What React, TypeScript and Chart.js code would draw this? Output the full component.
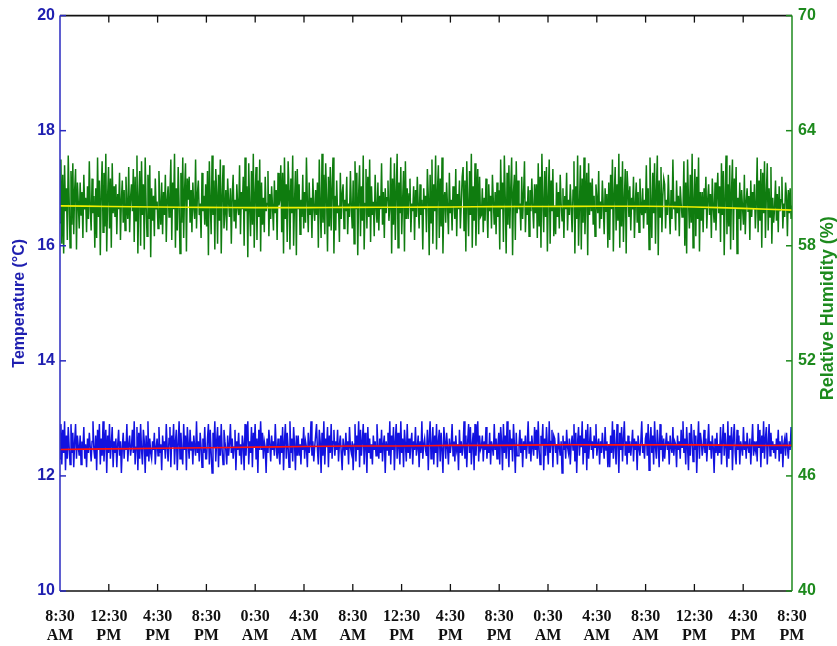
import React, { useEffect, useRef } from "react";
import { Chart, registerables } from "chart.js";

Chart.register(...registerables);

const timeLabels: string[][] = [
  ["8:30", "AM"], ["12:30", "PM"], ["4:30", "PM"], ["8:30", "PM"],
  ["0:30", "AM"], ["4:30", "AM"], ["8:30", "AM"], ["12:30", "PM"],
  ["4:30", "PM"], ["8:30", "PM"], ["0:30", "AM"], ["4:30", "AM"],
  ["8:30", "AM"], ["12:30", "PM"], ["4:30", "PM"], ["8:30", "PM"],
];

const temperatureTicks = [10, 12, 14, 16, 18, 20];
const humidityTicks = [40, 46, 52, 58, 64, 70];

const temperature = [
  12.3,12.9,12.2,12.8,12.4,12.95,12.1,12.7,12.3,12.85,12.5,12.2,12.9,12.4,12.75,12.15,12.6,12.9,12.3,12.7,
  12.5,12.35,12.7,12.2,12.6,12.45,12.85,12.3,12.55,12.15,12.65,12.4,12.75,12.5,12.25,12.6,12.95,12.45,12.3,12.7,
  12.1,12.8,12.45,12.9,12.2,12.65,12.35,12.95,12.25,12.6,12.8,12.05,12.7,12.4,12.9,12.3,12.55,12.85,12.15,12.6,
  12.4,12.65,12.15,12.55,12.8,12.35,12.6,12.05,12.5,12.75,12.3,12.6,12.45,12.9,12.25,12.55,12.7,12.35,12.5,12.8,
  12.4,12.95,12.2,12.5,12.85,12.1,12.75,12.3,12.9,12.45,12.2,12.8,12.6,12.05,12.7,12.35,12.95,12.25,12.65,12.4,
  12.3,12.6,12.45,12.75,12.2,12.5,12.65,12.35,12.85,12.4,12.55,12.1,12.7,12.45,12.6,12.3,12.9,12.5,12.25,12.65,
  12.85,12.15,12.7,12.5,12.9,12.2,12.6,12.8,12.1,12.55,12.95,12.3,12.75,12.4,12.2,12.9,12.45,12.7,12.1,12.85,
  12.55,12.3,12.8,12.45,12.6,12.2,12.7,12.5,12.35,12.95,12.4,12.6,12.25,12.75,12.5,12.15,12.65,12.4,12.85,12.3,
  12.3,12.65,12.9,12.2,12.8,12.4,12.05,12.75,12.5,12.95,12.25,12.6,12.85,12.15,12.7,12.35,12.9,12.45,12.2,12.8,
  12.6,12.45,12.2,12.7,12.35,12.55,12.9,12.4,12.65,12.3,12.5,12.8,12.1,12.6,12.45,12.75,12.35,12.55,12.2,12.7,
  12.55,12.1,12.9,12.35,12.7,12.95,12.2,12.6,12.4,12.85,12.15,12.75,12.5,12.9,12.3,12.65,12.05,12.8,12.45,12.95,
  12.45,12.75,12.3,12.6,12.5,12.05,12.65,12.4,12.8,12.55,12.25,12.7,12.45,12.6,12.35,12.9,12.5,12.3,12.65,12.4,
  12.2,12.7,12.4,12.85,12.1,12.6,12.9,12.3,12.75,12.5,12.15,12.95,12.4,12.65,12.25,12.85,12.55,12.1,12.7,12.35,
  12.7,12.35,12.55,12.2,12.65,12.45,12.85,12.3,12.6,12.5,12.15,12.75,12.4,12.55,12.95,12.35,12.6,12.25,12.5,12.7,
  12.9,12.45,12.2,12.8,12.6,12.05,12.75,12.35,12.95,12.2,12.65,12.5,12.85,12.15,12.7,12.4,12.9,12.3,12.6,12.8,
  12.35,12.6,12.45,12.8,12.25,12.55,12.7,12.4,12.1,12.65,12.5,12.35,12.75,12.45,12.6,12.2,12.85,12.5,12.4,12.6,
  12.1,12.55,12.9,12.25,12.7,12.45,12.95,12.15,12.8,12.35,12.6,12.9,12.2,12.75,12.5,12.05,12.85,12.4,12.65,12.3,
  12.55,12.2,12.7,12.45,12.6,12.35,12.9,12.5,12.3,12.65,12.4,12.8,12.25,12.55,12.7,12.05,12.6,12.45,12.75,12.35,
  12.95,12.2,12.7,12.45,12.85,12.1,12.6,12.9,12.3,12.75,12.5,12.2,12.95,12.4,12.65,12.15,12.8,12.55,12.25,12.9,
  12.4,12.65,12.3,12.55,12.75,12.2,12.6,12.45,12.85,12.35,12.5,12.7,12.15,12.6,12.4,12.95,12.3,12.55,12.65,12.45,
  12.35,12.8,12.1,12.65,12.95,12.3,12.5,12.85,12.2,12.7,12.4,12.9,12.15,12.6,12.8,12.25,12.75,12.45,12.05,12.85,
  12.6,12.3,12.75,12.5,12.2,12.65,12.4,12.55,12.9,12.35,12.6,12.25,12.7,12.45,12.55,12.1,12.8,12.4,12.6,12.35,
  12.5,12.95,12.3,12.7,12.15,12.6,12.9,12.4,12.85,12.2,12.55,12.75,12.1,12.9,12.35,12.65,12.95,12.25,12.7,12.45,
  12.5,12.7,12.25,12.6,12.45,12.85,12.3,12.55,12.4,12.75,12.2,12.6,12.5,12.35,12.9,12.45,12.65,12.3,12.55,12.75,
  12.2,12.85,12.6,12.1,12.9,12.4,12.7,12.3,12.95,12.5,12.15,12.8,12.45,12.65,12.25,12.9,12.55,12.05,12.75,12.35,
  12.35,12.55,12.8,12.4,12.65,12.15,12.6,12.45,12.7,12.3,12.55,12.95,12.4,12.6,12.25,12.7,12.5,12.35,12.85,12.45,
  12.8,12.3,12.95,12.45,12.2,12.7,12.55,12.9,12.1,12.65,12.35,12.85,12.5,12.2,12.95,12.4,12.6,12.8,12.15,12.7,
  12.65,12.4,12.55,12.2,12.75,12.5,12.35,12.6,12.05,12.7,12.45,12.6,12.3,12.8,12.5,12.4,12.65,12.2,12.55,12.7,
  12.45,12.9,12.25,12.75,12.05,12.6,12.85,12.35,12.7,12.5,12.95,12.2,12.65,12.4,12.8,12.1,12.9,12.3,12.55,12.85,
  12.45,12.6,12.3,12.7,12.5,12.9,12.35,12.55,12.65,12.2,12.6,12.4,12.75,12.5,12.3,12.85,12.45,12.6,12.15,12.55,
  12.15,12.7,12.4,12.95,12.3,12.8,12.5,12.2,12.9,12.6,12.05,12.75,12.45,12.85,12.25,12.65,12.95,12.35,12.6,12.2,
  12.7,12.4,12.6,12.35,12.55,12.8,12.25,12.65,12.45,12.6,12.1,12.7,12.5,12.35,12.6,12.95,12.4,12.55,12.3,12.65,
  12.75,12.35,12.9,12.1,12.6,12.85,12.4,12.7,12.2,12.95,12.5,12.3,12.8,12.55,12.15,12.9,12.45,12.7,12.25,12.65,
  12.3,12.55,12.75,12.45,12.6,12.2,12.7,12.5,12.4,12.85,12.35,12.6,12.55,12.15,12.7,12.45,12.6,12.3,12.8,12.5,
  12.95,12.4,12.65,12.2,12.85,12.5,12.1,12.75,12.35,12.9,12.6,12.25,12.8,12.45,12.7,12.05,12.55,12.95,12.3,12.75,
  12.6,12.35,12.5,12.8,12.4,12.65,12.25,12.55,12.9,12.45,12.6,12.3,12.7,12.5,12.05,12.65,12.4,12.75,12.35,12.55,
  12.4,12.85,12.2,12.6,12.9,12.35,12.75,12.5,12.15,12.95,12.3,12.7,12.45,12.85,12.1,12.65,12.9,12.4,12.2,12.8,
  12.45,12.7,12.2,12.6,12.5,12.35,12.85,12.45,12.6,12.3,12.75,12.5,12.4,12.65,12.2,12.55,12.9,12.35,12.6,12.45,
  12.6,12.25,12.9,12.5,12.8,12.15,12.7,12.4,12.95,12.3,12.65,12.85,12.2,12.55,12.9,12.35,12.75,12.45,12.6,12.4,
  12.55,12.3,12.65,12.45,12.8,12.25,12.6,12.4,12.7,12.15,12.55,12.65,12.35,12.75,12.5,12.3,12.6,12.45,12.85,12.5,
];

const humidity = [
  59.2,62.5,58.1,61.7,57.6,62.2,59.8,61.0,58.3,62.7,60.4,57.9,61.9,59.1,62.3,58.6,60.9,62.0,57.8,61.3,
  60.2,58.9,61.3,59.6,60.8,58.4,61.7,59.9,60.5,58.7,61.1,59.4,62.4,60.0,58.8,61.5,59.7,60.6,57.9,61.0,
  58.4,62.6,59.5,61.4,57.5,60.8,62.4,58.7,61.8,59.0,62.8,57.7,60.6,62.1,58.9,61.5,57.9,62.3,59.7,61.1,
  59.5,61.2,58.6,60.7,59.9,61.8,58.3,60.4,61.4,59.2,60.9,58.8,61.6,60.1,59.4,62.1,58.7,60.5,61.2,59.8,
  62.0,58.2,61.6,59.3,62.7,57.6,60.5,61.9,58.0,62.4,59.6,61.2,57.8,62.6,60.1,58.5,61.7,59.4,62.2,57.4,
  61.0,59.3,60.6,58.5,61.5,59.9,60.3,58.9,61.9,60.2,59.1,61.3,58.6,60.8,59.6,61.7,58.2,60.4,61.1,59.5,
  60.7,62.5,58.3,61.3,59.9,62.8,57.9,61.0,58.8,62.1,60.2,57.6,61.8,59.2,62.6,58.4,60.9,62.3,57.7,61.5,
  60.4,61.6,59.2,60.9,58.7,61.3,60.0,59.4,62.5,58.9,60.7,61.4,59.6,60.2,58.4,61.8,59.8,60.6,59.1,61.2,
  59.0,61.9,57.5,62.4,60.3,58.6,62.7,59.6,61.4,57.8,62.0,60.8,58.1,61.7,59.3,62.5,57.6,60.6,62.2,58.9,
  59.7,60.9,58.8,61.5,60.3,59.5,61.0,58.1,60.6,61.7,59.3,60.4,58.9,61.2,60.0,59.6,62.2,58.6,60.8,59.9,
  61.6,58.0,62.6,59.8,61.1,57.4,62.3,60.0,58.5,61.9,59.1,62.8,57.9,60.7,62.1,58.3,61.4,59.5,62.5,57.7,
  61.3,59.1,60.5,58.7,61.6,59.8,60.2,61.9,58.5,60.7,59.4,61.1,60.0,58.8,61.4,59.7,60.9,58.3,61.8,60.1,
  60.4,62.2,58.7,61.8,57.6,62.6,59.4,61.2,58.2,62.4,60.9,57.8,61.5,59.7,62.7,58.0,60.3,61.9,57.5,62.0,
  59.9,61.2,58.6,60.4,59.5,61.7,58.9,60.8,59.2,62.6,60.3,58.7,61.3,59.6,60.5,58.4,61.5,60.0,59.3,60.9,
  59.6,61.3,57.9,62.5,60.1,58.4,62.8,59.2,61.7,58.6,62.3,60.5,57.7,61.6,59.0,62.1,58.8,61.0,62.6,57.6,
  60.6,58.8,61.4,59.7,60.1,58.2,61.8,59.4,60.7,61.2,58.9,60.4,59.8,61.6,58.6,60.2,59.5,61.9,60.0,58.9,
  61.4,58.1,62.4,59.9,61.8,57.5,60.7,62.2,58.5,61.1,59.3,62.7,57.8,60.2,62.0,58.9,61.6,59.5,62.5,58.2,
  61.1,59.6,60.3,58.5,61.7,60.0,59.2,61.3,58.8,60.6,59.9,62.3,59.1,60.8,58.4,61.0,59.7,60.5,61.4,59.3,
  60.0,62.6,57.6,61.5,59.1,62.3,58.3,60.8,62.8,57.9,61.3,59.7,62.1,58.6,60.4,61.9,57.7,62.4,59.4,61.0,
  59.4,60.7,61.5,58.7,60.2,59.8,61.1,58.3,60.9,59.5,61.6,60.1,58.9,61.2,59.6,60.4,57.8,61.0,59.9,60.6,
  58.7,62.0,60.6,57.5,61.7,59.2,62.5,58.1,61.2,59.8,62.7,57.8,60.9,62.2,58.4,61.5,59.0,62.6,57.6,60.3,
  60.8,59.2,61.3,60.0,58.6,61.8,59.7,60.4,58.8,61.1,60.3,59.4,62.0,58.5,60.7,59.9,61.4,58.9,60.2,61.6,
  62.1,58.8,61.4,57.7,62.4,60.2,58.5,61.9,59.6,62.8,57.9,61.1,59.3,62.3,58.0,60.7,62.0,58.6,61.6,59.5,
  59.6,61.0,58.7,60.5,59.3,61.5,60.1,58.4,61.2,59.8,60.6,58.9,61.7,60.3,59.1,60.8,58.6,61.3,59.5,60.9,
  57.8,62.5,59.9,61.3,58.2,62.7,60.5,57.6,61.8,59.1,62.2,58.9,61.0,62.6,57.5,60.8,61.7,58.3,62.4,59.7,
  61.4,59.9,60.2,58.8,61.6,59.4,60.7,62.4,58.7,60.3,59.6,61.1,58.5,60.9,59.8,61.5,60.0,58.9,61.2,59.7,
  61.2,58.4,62.3,59.0,61.6,57.9,62.8,60.3,58.7,61.9,59.5,62.1,57.7,60.6,62.5,58.1,61.4,59.8,62.0,58.5,
  60.1,58.6,61.3,59.5,60.8,58.9,61.7,60.2,59.3,61.0,58.4,60.6,59.9,61.8,58.8,60.4,59.6,61.2,60.0,58.7,
  60.9,62.4,57.6,61.1,59.4,62.7,58.0,60.1,62.2,57.8,61.5,59.2,62.6,58.6,60.5,61.8,57.5,62.3,59.6,61.3,
  59.8,61.5,59.1,60.6,58.5,61.2,60.4,59.7,61.9,58.9,60.3,59.4,61.4,60.1,58.6,61.0,59.8,60.7,57.9,61.3,
  58.3,61.7,59.9,62.5,57.7,60.7,62.1,58.8,61.2,59.3,62.8,57.9,61.6,59.0,62.4,58.2,60.4,62.0,57.6,61.9,
  60.9,59.5,61.1,58.8,60.5,59.9,61.6,58.4,60.2,61.3,59.2,60.8,58.7,61.5,60.0,59.6,61.0,58.9,60.4,59.7,
  62.2,59.1,61.0,57.8,62.6,60.2,58.4,61.8,59.7,62.3,58.1,60.9,62.7,57.5,61.4,59.5,62.1,58.7,60.6,61.5,
  61.2,58.9,60.4,59.6,61.7,60.1,58.6,60.9,59.4,62.5,59.9,60.3,58.8,61.4,59.7,60.6,58.5,61.1,60.2,59.5,
  59.8,62.4,58.0,61.3,57.6,62.5,60.4,58.9,61.7,59.2,62.8,57.9,60.3,62.0,58.5,61.6,59.4,62.6,57.7,60.8,
  59.3,60.8,58.7,61.0,59.9,61.6,58.9,60.4,61.2,59.6,60.7,58.4,61.5,60.0,59.2,61.3,58.8,60.5,61.8,59.7,
  61.1,58.2,62.3,59.6,61.9,57.5,60.6,62.7,58.6,61.2,59.0,62.2,57.8,60.9,62.5,58.3,61.5,59.9,62.1,57.6,
  60.5,59.4,61.3,58.8,60.9,60.0,59.1,61.7,58.6,60.3,61.0,59.8,60.6,58.3,61.4,59.5,60.8,59.9,61.2,58.9,
  60.2,62.6,58.7,61.4,59.3,62.0,57.9,61.8,59.7,62.4,58.4,60.7,62.3,58.8,61.0,59.5,62.1,58.1,60.5,59.2,
  60.0,61.4,59.3,60.7,58.7,61.1,59.8,60.4,61.6,58.9,60.2,59.5,61.3,60.6,58.5,60.9,59.7,61.0,59.4,60.1,
];

// Smoothed trend lines, one value per 4-hour tick
const temperatureTrend = [12.46,12.47,12.48,12.49,12.5,12.51,12.52,12.52,12.53,12.53,12.54,12.54,12.54,12.54,12.53,12.53];
const humidityTrend = [60.08,60.05,60.02,60.0,59.99,59.99,60.0,60.01,60.02,60.04,60.05,60.06,60.06,60.02,59.95,59.86];

const TOTAL_HOURS = 60;
const TICK_STEP = 4;

const BLUE_TEXT = "#1f1fb0";
const GREEN_TEXT = "#1d8a1d";

const framePlugin = {
  id: "frame",
  afterDraw(chart: any) {
    const { ctx, chartArea, scales } = chart;
    const { left, right, top, bottom } = chartArea;
    const line = (x1: number, y1: number, x2: number, y2: number) => {
      ctx.beginPath();
      ctx.moveTo(x1, y1);
      ctx.lineTo(x2, y2);
      ctx.stroke();
    };
    ctx.save();
    ctx.lineCap = "butt";
    ctx.strokeStyle = "#111111";
    ctx.lineWidth = 1.6;
    line(left, top, right, top);
    line(left, bottom, right, bottom);
    ctx.lineWidth = 1.3;
    scales.x.ticks.forEach((t: any) => {
      const px = scales.x.getPixelForValue(t.value);
      if (px <= left + 1 || px >= right - 1) return;
      line(px, top, px, top + 7);
      line(px, bottom, px, bottom - 7);
    });
    ctx.strokeStyle = "#2a2ac0";
    ctx.lineWidth = 1.5;
    line(left, top, left, bottom);
    scales.y.ticks.forEach((t: any) => {
      const py = scales.y.getPixelForValue(t.value);
      line(left, py, left + 6, py);
    });
    ctx.strokeStyle = "#1e8a1e";
    line(right, top, right, bottom);
    scales.y1.ticks.forEach((t: any) => {
      const py = scales.y1.getPixelForValue(t.value);
      line(right - 6, py, right, py);
    });
    const midY = (top + bottom) / 2;
    ctx.textAlign = "center";
    ctx.textBaseline = "middle";
    ctx.font = "bold 16px 'Liberation Sans', Arial, sans-serif";
    ctx.fillStyle = BLUE_TEXT;
    ctx.save();
    ctx.translate(20, midY);
    ctx.rotate(-Math.PI / 2);
    ctx.fillText("Temperature (°C)", 0, 0);
    ctx.restore();
    ctx.font = "bold 18px 'Liberation Sans', Arial, sans-serif";
    ctx.fillStyle = GREEN_TEXT;
    ctx.save();
    ctx.translate(828, midY + 5);
    ctx.rotate(-Math.PI / 2);
    ctx.fillText("Relative Humidity (%)", 0, 0);
    ctx.restore();
    ctx.restore();
  },
};

export default function App() {
  const canvasRef = useRef<HTMLCanvasElement | null>(null);

  useEffect(() => {
    document.body.style.margin = "0";
    const canvas = canvasRef.current;
    if (!canvas) return;
    const toPoints = (arr: number[]) =>
      arr.map((v, i) => ({ x: (i * TOTAL_HOURS) / (arr.length - 1), y: v }));
    const toTrend = (arr: number[]) => arr.map((v, i) => ({ x: i * TICK_STEP, y: v }));

    const chart = new Chart(canvas, {
      type: "line",
      data: {
        datasets: [
          {
            label: "Temperature trend",
            data: toTrend(temperatureTrend),
            yAxisID: "y",
            borderColor: "#ff1010",
            borderWidth: 1.6,
            pointRadius: 0,
            tension: 0.4,
            order: 0,
          },
          {
            label: "Humidity trend",
            data: toTrend(humidityTrend),
            yAxisID: "y1",
            borderColor: "#f0f000",
            borderWidth: 1.6,
            pointRadius: 0,
            tension: 0.4,
            order: 0,
          },
          {
            label: "Temperature",
            data: toPoints(temperature),
            yAxisID: "y",
            borderColor: "#1212e0",
            borderWidth: 1.5,
            pointRadius: 0,
            tension: 0,
            order: 1,
          },
          {
            label: "Relative Humidity",
            data: toPoints(humidity),
            yAxisID: "y1",
            borderColor: "#0f7c0f",
            borderWidth: 1.5,
            pointRadius: 0,
            tension: 0,
            order: 1,
          },
        ],
      },
      options: {
        animation: false,
        responsive: false,
        devicePixelRatio: 1,
        layout: { padding: { top: 14, left: 0, right: 0, bottom: 0 } },
        plugins: { legend: { display: false }, tooltip: { enabled: false } },
        scales: {
          x: {
            type: "linear",
            min: 0,
            max: TOTAL_HOURS,
            afterBuildTicks: (scale: any) => {
              scale.ticks = timeLabels.map((_, i) => ({ value: i * TICK_STEP }));
            },
            afterFit: (scale: any) => {
              scale.height = 55;
            },
            grid: { display: false, drawTicks: false },
            border: { display: false },
            ticks: {
              autoSkip: false,
              maxRotation: 0,
              minRotation: 0,
              padding: 16,
              color: "#111111",
              font: { family: "'Liberation Serif', 'Times New Roman', serif", size: 16, weight: "bold", lineHeight: 1.2 },
              callback: (value: any) => timeLabels[Math.round(Number(value) / TICK_STEP)],
            },
          },
          y: {
            type: "linear",
            position: "left",
            min: 10,
            max: 20,
            afterBuildTicks: (scale: any) => {
              scale.ticks = temperatureTicks.map((v) => ({ value: v }));
            },
            afterFit: (scale: any) => {
              scale.width = 60;
            },
            grid: { display: false, drawTicks: false },
            border: { display: false },
            ticks: {
              padding: 5,
              color: BLUE_TEXT,
              font: { family: "'Liberation Sans', Arial, sans-serif", size: 16, weight: "bold" },
              callback: (value: any) => String(value),
            },
          },
          y1: {
            type: "linear",
            position: "right",
            min: 40,
            max: 70,
            afterBuildTicks: (scale: any) => {
              scale.ticks = humidityTicks.map((v) => ({ value: v }));
            },
            afterFit: (scale: any) => {
              scale.width = 45;
            },
            grid: { display: false, drawTicks: false },
            border: { display: false },
            ticks: {
              padding: 6,
              color: GREEN_TEXT,
              font: { family: "'Liberation Sans', Arial, sans-serif", size: 16, weight: "bold" },
              callback: (value: any) => String(value),
            },
          },
        },
      },
      plugins: [framePlugin],
    });
    return () => chart.destroy();
  }, []);

  return (
    <div style={{ width: 837, height: 646, background: "#ffffff" }}>
      <canvas ref={canvasRef} width={837} height={646} style={{ display: "block" }} />
    </div>
  );
}
